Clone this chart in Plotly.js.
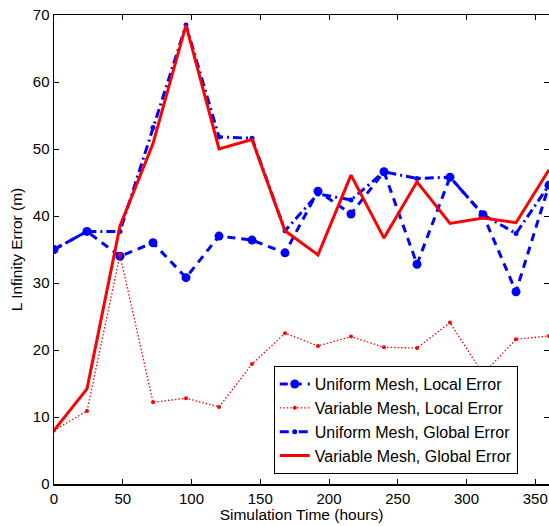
<!DOCTYPE html>
<html>
<head>
<meta charset="utf-8">
<script src="https://cdn.plot.ly/plotly-3.0.1.min.js"></script>
<style>html,body{margin:0;padding:0;background:#fff;}#chart{width:549px;height:526px;}</style>
</head>
<body>
<div id="chart"></div>
<script>
var hours = [0, 24, 48, 72, 96, 120, 144, 168, 192, 216, 240, 264, 288, 312, 336, 360];
var uniformLocal = [35.0, 37.7, 34.0, 36.0, 30.8, 37.0, 36.4, 34.5, 43.7, 40.3, 46.6, 32.8, 45.8, 40.2, 28.7, 44.6];
var variableLocal = [8.0, 10.9, 34.2, 12.2, 12.8, 11.5, 17.9, 22.5, 20.6, 22.0, 20.4, 20.3, 24.1, 16.4, 21.6, 22.1];
var uniformGlobal = [35.0, 37.7, 37.7, 53.2, 68.5, 51.8, 51.6, 37.8, 43.3, 42.4, 46.6, 45.6, 45.8, 40.2, 37.4, 44.6];
var variableGlobal = [8.0, 14.2, 38.5, 50.8, 68.5, 50.0, 51.4, 37.8, 34.2, 46.1, 36.7, 45.1, 38.9, 39.7, 39.0, 46.9];
var xTicks = [0, 50, 100, 150, 200, 250, 300, 350];
var yTicks = [0, 10, 20, 30, 40, 50, 60, 70];

var FONT = 'Arial, Liberation Sans, sans-serif';

var traces = [
  {x: hours, y: uniformLocal, name: 'Uniform Mesh, Local Error', mode: 'lines+markers',
   line: {color: '#0000ff', width: 3, dash: '8px,6px'}, marker: {color: '#0000ff', size: 9}},
  {x: hours, y: variableLocal, name: 'Variable Mesh, Local Error', mode: 'lines+markers',
   line: {color: '#ff0000', width: 1.3, dash: '1.5px,2px'}, marker: {color: '#ff0000', size: 4}},
  {x: hours, y: uniformGlobal, name: 'Uniform Mesh, Global Error', mode: 'lines+markers',
   line: {color: '#0000ff', width: 3, dash: '9px,4px,2px,4px'}, marker: {color: '#0000ff', size: 5}},
  {x: hours, y: variableGlobal, name: 'Variable Mesh, Global Error', mode: 'lines',
   line: {color: '#ff0000', width: 3}}
];

var axisCommon = {
  showgrid: false, zeroline: false, showline: true, linecolor: '#000', linewidth: 1.5,
  mirror: 'ticks', ticks: 'inside', ticklen: 5, tickcolor: '#000', tickwidth: 1,
  tickfont: {family: FONT, size: 15, color: '#000'}
};

var layout = {
  width: 549, height: 526,
  margin: {l: 54, r: 0, t: 15, b: 42},
  paper_bgcolor: '#fff', plot_bgcolor: '#fff',
  font: {family: FONT, size: 15.5, color: '#000'},
  showlegend: true,
  xaxis: Object.assign({}, axisCommon, {range: [0, 360], tickvals: xTicks,
    title: {text: 'Simulation Time (hours)', standoff: 1, font: {size: 15.5}}}),
  yaxis: Object.assign({}, axisCommon, {range: [0, 70], tickvals: yTicks,
    title: {text: 'L Infinity Error (m)', standoff: 6, font: {size: 15.5}}}),
  legend: {x: 0.444, y: 0.021, xanchor: 'left', yanchor: 'bottom',
    bordercolor: '#000', borderwidth: 1, bgcolor: '#fff',
    font: {family: FONT, size: 16, color: '#000'},
    itemwidth: 30, tracegroupgap: 0}
};

Plotly.newPlot('chart', traces, layout, {staticPlot: true});
</script>
</body>
</html>
